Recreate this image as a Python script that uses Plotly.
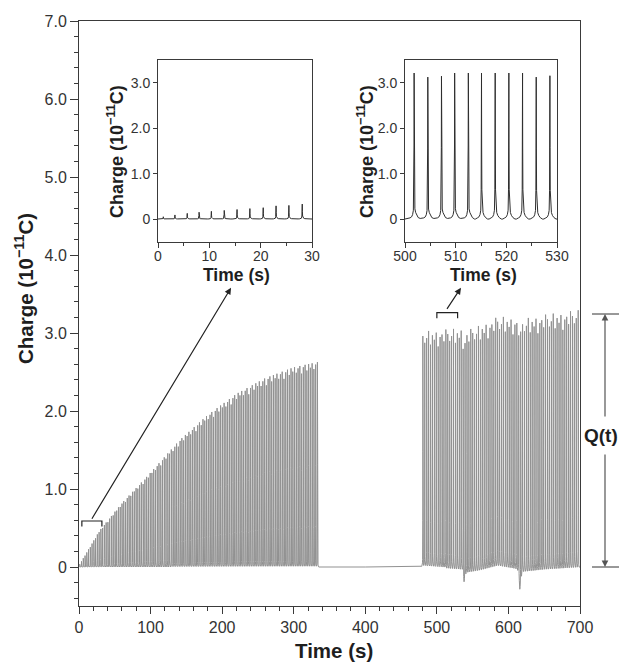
import numpy as np
import plotly.graph_objects as go

# ---------------- data ----------------
# normalised pulse profile (fraction of peak height) vs offset from the peak, s
pulse_offset = [-1.2, -0.8, -0.5, -0.3, -0.15, -0.07, -0.03, 0.0, 0.03, 0.07, 0.15, 0.3, 0.5, 0.8, 1.2]
pulse_shape = [0.004, 0.008, 0.015, 0.03, 0.06, 0.2, 0.5, 1.0, 0.5, 0.2, 0.07, 0.045, 0.025, 0.01, 0.004]

# main panel, first regime (0-335 s): peak-height envelope
env1_t = [0, 29, 60, 95, 141, 180, 220, 260, 300, 335]
env1_q = [0.02, 0.47, 0.82, 1.16, 1.63, 1.95, 2.22, 2.42, 2.56, 2.63]
period1, start1, end1 = 2.46, 1.03, 335.0
var1 = [1.0, 0.98, 1.0, 0.97, 0.99, 1.0, 0.96, 0.99, 1.0, 0.97]

# main panel, second regime (479-700 s)
env2_t = [479, 542, 588, 635, 700]
env2_q = [2.95, 3.04, 3.13, 3.19, 3.23]
period2, start2, end2 = 2.68, 480.4, 700.0
var2 = [1.0, 0.97, 0.99, 1.02, 0.96, 1.0, 0.98, 1.01, 0.95, 0.99, 1.0, 0.97, 1.02]

# baseline of the main trace
base_t = [0, 335, 400, 479, 536, 538, 541, 560, 585, 610, 614, 616, 619, 650, 700]
base_q = [0.0, 0.0, 0.0, 0.01, -0.03, -0.19, -0.07, -0.04, 0.02, -0.02, -0.05, -0.30, -0.06, -0.03, 0.0]

# left inset (0-30 s)
in1_peak_t = [1.03, 3.3, 5.7, 8.0, 10.4, 12.9, 15.4, 17.9, 20.5, 23.0, 25.5, 28.1]
in1_peak_q = [0.05, 0.09, 0.125, 0.15, 0.17, 0.19, 0.21, 0.23, 0.25, 0.29, 0.30, 0.33]

# right inset (500-530 s)
in2_peak_t = [501.8, 504.5, 507.2, 509.8, 512.5, 515.1, 517.8, 520.5, 523.2, 525.9, 528.6]
in2_peak_q = [3.22, 3.13, 3.15, 3.22, 3.22, 3.22, 3.22, 3.22, 3.22, 3.13, 3.16]

main_xticks = [0, 100, 200, 300, 400, 500, 600, 700]
main_yticks = [0, 1, 2, 3, 4, 5, 6, 7]
main_ytext = ["0", "1.0", "2.0", "3.0", "4.0", "5.0", "6.0", "7.0"]
inset_yticks = [0, 1, 2, 3]
inset_ytext = ["0", "1.0", "2.0", "3.0"]
in1_xticks = [0, 10, 20, 30]
in2_xticks = [500, 510, 520, 530]


def train(peaks_t, peaks_q, t_lo, t_hi, extra_t=()):
    peaks_t = np.asarray(peaks_t, float)
    peaks_q = np.asarray(peaks_q, float)
    off = np.asarray(pulse_offset)
    grid = [t_lo, t_hi] + list(extra_t)
    for tp in peaks_t:
        grid.extend(tp + off)
    g = np.unique(np.clip(np.asarray(grid), t_lo, t_hi))
    vals = np.zeros_like(g)
    idx = np.searchsorted(peaks_t, g)
    for k in (idx - 1, idx):
        kk = np.clip(k, 0, len(peaks_t) - 1)
        vals += peaks_q[kk] * np.interp(g - peaks_t[kk], off, pulse_shape, left=0, right=0) * ((k >= 0) & (k < len(peaks_t)))
    return g, vals


p1_t = np.arange(start1, end1, period1)
p1_q = np.interp(p1_t, env1_t, env1_q) * np.resize(var1, len(p1_t))
p2_t = np.arange(start2, end2, period2)
p2_q = np.interp(p2_t, env2_t, env2_q) * np.resize(var2, len(p2_t))
all_t = np.concatenate([p1_t, p2_t])
all_q = np.concatenate([p1_q, p2_q])
main_t, main_q = train(all_t, all_q, 0, 700, extra_t=base_t)
main_q = main_q + np.interp(main_t, base_t, base_q)

i1_t, i1_q = train(in1_peak_t, in1_peak_q, 0, 30)
i2_t, i2_q = train(in2_peak_t, in2_peak_q, 500, 530)

# ---------------- layout ----------------
# the page body has an 8 px margin, so the figure is drawn smaller and
# all reference-pixel positions are shifted by that offset
OFF = 8
W, H = 628 - OFF, 669 - OFF
PL, PR, PT, PB = 79, 580, 21, 606          # plot-area edges in window pixels
L, R, T, B = PL - OFF, W - (PR - OFF), PT - OFF, H - (PB - OFF)
PW, PH = PR - PL, PB - PT


def fx(px):
    return (px - PL) / PW


def fy(py):
    return (PB - py) / PH


FONT = "Liberation Sans, Arial, Helvetica, sans-serif"
AX = "#3a3a3a"
TXT = "#1e1e1e"

fig = go.Figure()
fig.add_trace(go.Scatter(x=main_t, y=main_q, mode="lines", line=dict(color="#919191", width=1),
                         hoverinfo="skip", showlegend=False, xaxis="x", yaxis="y"))
fig.add_trace(go.Scatter(x=i1_t, y=i1_q, mode="lines", line=dict(color="#2e2e2e", width=1),
                         hoverinfo="skip", showlegend=False, xaxis="x2", yaxis="y2"))
fig.add_trace(go.Scatter(x=i2_t, y=i2_q, mode="lines", line=dict(color="#2e2e2e", width=1),
                         hoverinfo="skip", showlegend=False, xaxis="x3", yaxis="y3"))


def axstyle(size, ticklen, **kw):
    d = dict(showline=True, linecolor=AX, linewidth=1, mirror=True, ticks="outside",
             ticklen=ticklen, tickwidth=1, tickcolor=AX, showgrid=False, zeroline=False,
             tickfont=dict(family=FONT, size=size, color="#333333"), fixedrange=True)
    d.update(kw)
    return d


fig.update_layout(
    width=W, height=H, autosize=False,
    margin=dict(l=L, r=R, t=T, b=B, pad=0, autoexpand=False),
    paper_bgcolor="white", plot_bgcolor="white",
    font=dict(family=FONT, color=TXT),
    xaxis=axstyle(16, 7, domain=[0, 1], range=[0, 700], tickmode="array", tickvals=main_xticks,
                  minor=dict(tickmode="linear", tick0=0, dtick=20, ticks="outside", ticklen=4,
                             tickcolor=AX, showgrid=False)),
    yaxis=axstyle(16, 8, domain=[0, 1], range=[-0.5, 7.0], tickmode="array", tickvals=main_yticks,
                  ticktext=main_ytext,
                  minor=dict(tickmode="linear", tick0=0, dtick=0.2, ticks="outside", ticklen=4,
                             tickcolor=AX, showgrid=False)),
    xaxis2=axstyle(14, 5, domain=[fx(158), fx(312)], range=[0, 30], anchor="y2",
                   tickmode="array", tickvals=in1_xticks, ticklabelstandoff=-4,
                   minor=dict(tickmode="linear", tick0=0, dtick=5, ticks="outside", ticklen=3,
                              tickcolor=AX, showgrid=False)),
    yaxis2=axstyle(14, 4, domain=[fy(241.7), fy(60.3)], range=[-0.5, 3.5], anchor="x2",
                   tickmode="array", tickvals=inset_yticks, ticktext=inset_ytext),
    xaxis3=axstyle(14, 5, domain=[fx(405), fx(557)], range=[500, 530], anchor="y3",
                   tickmode="array", tickvals=in2_xticks, ticklabelstandoff=-4,
                   minor=dict(tickmode="linear", tick0=500, dtick=5, ticks="outside", ticklen=3,
                              tickcolor=AX, showgrid=False)),
    yaxis3=axstyle(14, 4, domain=[fy(241.7), fy(60.3)], range=[-0.5, 3.5], anchor="x3",
                   tickmode="array", tickvals=inset_yticks, ticktext=inset_ytext),
)

ann = []
charge = "<b>Charge (10<sup>−11</sup>C)</b>"
time_t = "<b>Time (s)</b>"


def text(s, px, py, size, angle=0):
    ann.append(dict(text=s, x=fx(px), y=fy(py), xref="paper", yref="paper", showarrow=False,
                    xanchor="center", yanchor="middle", textangle=angle,
                    font=dict(family=FONT, size=size, color=TXT)))


text(charge, 24, 289, 20.5, -90)
text(time_t, 334, 650, 20.5)
text(charge, 115, 152, 18, -90)
text(time_t, 236, 275, 17.5)
text(charge, 365, 152, 18, -90)
text(time_t, 483, 275, 17.5)
text("<b>Q(t)</b>", 601, 436, 19)

# arrows from brackets to insets (data coords)
for head, tail in [((212.4, 3.58), (16.8, 0.60)), ((533.7, 3.58), (512.8, 3.29))]:
    ann.append(dict(text="", x=head[0], y=head[1], xref="x", yref="y", ax=tail[0], ay=tail[1],
                    axref="x", ayref="y", showarrow=True, arrowhead=2, arrowsize=1.1,
                    arrowwidth=1.2, arrowcolor="#222222", standoff=0))

# Q(t) double arrow
for py_head, dy in [(314, 104), (567, -114)]:
    ann.append(dict(text="", x=fx(605), y=fy(py_head), xref="paper", yref="paper", ax=0, ay=dy,
                    showarrow=True, arrowhead=2, arrowsize=1.1, arrowwidth=1.2,
                    arrowcolor="#555555", standoff=0))

shapes = []
# brackets
for x0, x1, yb, ye in [(4, 32, 0.59, 0.52), (500, 529, 3.26, 3.19)]:
    shapes.append(dict(type="path", xref="x", yref="y",
                       path=f"M {x0},{ye} L {x0},{yb} L {x1},{yb} L {x1},{ye}",
                       line=dict(color="#222222", width=1.2)))
# Q(t) reference lines
for py in (314, 567):
    shapes.append(dict(type="line", xref="paper", yref="paper", x0=fx(592), x1=fx(619),
                       y0=fy(py), y1=fy(py), line=dict(color="#333333", width=1)))

fig.update_layout(annotations=ann, shapes=shapes)
fig.write_html("out.html")
